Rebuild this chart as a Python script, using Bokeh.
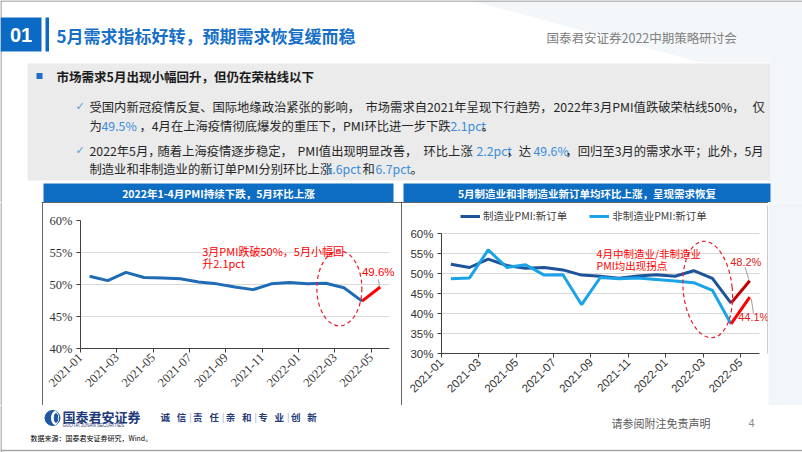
import math
from bokeh.plotting import figure
from bokeh.layouts import row, column
from bokeh.models import Range1d, FixedTicker, PrintfTickFormatter, Label, Legend, LegendItem
from bokeh.core.properties import value
from bokeh.embed import file_html
from bokeh.resources import INLINE

# ---------------- data ----------------
months = ["2021-01", "2021-02", "2021-03", "2021-04", "2021-05", "2021-06",
          "2021-07", "2021-08", "2021-09", "2021-10", "2021-11", "2021-12",
          "2022-01", "2022-02", "2022-03", "2022-04", "2022-05"]
pmi = [51.3, 50.6, 51.9, 51.1, 51.0, 50.9, 50.4, 50.1, 49.6, 49.2, 50.1, 50.3,
       50.1, 50.2, 49.5, 47.4, 49.6]
mfg_new_orders = [52.3, 51.5, 53.6, 52.0, 51.3, 51.5, 50.9, 49.6, 49.3, 48.8, 49.4, 49.7,
                  49.3, 50.7, 48.8, 42.6, 48.2]
nonmfg_new_orders = [48.7, 48.9, 55.9, 51.5, 52.2, 49.6, 49.7, 42.2, 49.0, 48.7, 48.9, 48.5,
                     48.1, 47.7, 45.8, 37.4, 44.1]
tick_labels = months[0::2]
left_yticks = [40, 45, 50, 55, 60]
right_yticks = [30, 35, 40, 45, 50, 55, 60]
series_names = ["制造业PMI:新订单", "非制造业PMI:新订单"]

CJK = "Noto Sans CJK SC"
BLUE_HI = "#3A8DDA"
TXT = "#262626"
N = len(months)


def deco(w, h, bg="white"):
    p = figure(width=w, height=h, x_range=Range1d(0, w), y_range=Range1d(h, 0),
               toolbar_location=None, output_backend="svg", min_border=0, title=None,
               x_axis_type=None, y_axis_type=None, outline_line_color=None,
               background_fill_color=bg, border_fill_color=bg, frame_align=False)
    return p


def txt(p, x, y, s, size, color=TXT, bold=False, align="left", font=CJK):
    p.text(x=[x], y=[y], text=[s], text_font=value(font), text_font_size=value(f"{size}px"),
           text_color=color, text_font_style="bold" if bold else "normal",
           text_align=align, text_baseline="middle")


# ---------------- header (y 0..202) ----------------
hd = deco(802, 202)
hd.patch(x=[470, 802, 802, 700], y=[0, 0, 62, 62], color="#F4F7FA", line_color=None)
hd.quad(left=[770], right=[802], top=[55], bottom=[202], color="#F2F5F9", line_color=None)
hd.segment(x0=[0], y0=[0.5], x1=[802], y1=[0.5], color="#A6A6A6", line_width=1.5)
hd.segment(x0=[0.5], y0=[0], x1=[0.5], y1=[202], color="#A6A6A6", line_width=1.5)
hd.quad(left=[0], right=[41], top=[17], bottom=[51], color="#0B6BC4", line_color=None)
hd.quad(left=[45], right=[48.5], top=[17], bottom=[51], color="#0B6BC4", line_color=None)
txt(hd, 20.5, 34.5, "01", 20, "white", True, "center", "Liberation Sans")
txt(hd, 56, 34.5, "5月需求指标好转，预期需求恢复缓而稳", 17, "#1670C8", True)
txt(hd, 546, 37, "国泰君安证券2022中期策略研讨会", 12.5, "#808080")

hd.quad(left=[27], right=[770], top=[63], bottom=[180], color="#EBEBEB", line_color=None)
hd.quad(left=[36], right=[42], top=[72.5], bottom=[78.5], color="#1F6FC5", line_color=None)
txt(hd, 56, 76, "市场需求5月出现小幅回升，但仍在荣枯线以下", 12.5, "#1A1A1A", True)

FS = 12.3
txt(hd, 75, 106, "✓", 11, "#5B9BD5", font="DejaVu Sans")
for xx, s in [(89, "受国内新冠疫情反复、国际地缘政治紧张的影响，"), (365, "市场需求自2021年呈现下行趋势，"),
              (553, "2022年3月PMI值跌破荣枯线50%，"), (752, "仅")]:
    txt(hd, xx, 106, s, FS)
for xx, s, c in [(89, "为", TXT), (101, "49.5%", BLUE_HI),
                 (139, "，4月在上海疫情彻底爆发的重压下，PMI环比进一步下跌", TXT),
                 (450, "2.1pct", BLUE_HI), (481, "。", TXT)]:
    txt(hd, xx, 125, s, FS, c)
txt(hd, 75, 150, "✓", 11, "#5B9BD5", font="DejaVu Sans")
for xx, s, c in [(89, "2022年5月，", TXT), (157, "随着上海疫情逐步稳定，", TXT),
                 (297, "PMI值出现明显改善，", TXT), (423, "环比上涨", TXT),
                 (476, "2.2pct", BLUE_HI), (506, "，达", TXT), (533, "49.6%", BLUE_HI),
                 (565, "，回归至3月的需求水平；此外，5月", TXT)]:
    txt(hd, xx, 150, s, FS, c)
for xx, s, c in [(89, "制造业和非制造业的新订单PMI分别环比上涨", TXT), (325, "5.6pct", BLUE_HI),
                 (362, "和", TXT), (375, "6.7pct", BLUE_HI), (410, "。", TXT)]:
    txt(hd, xx, 168, s, FS, c)

hd.quad(left=[43, 403], right=[393, 770], top=[183, 183], bottom=[202, 202],
        color="#0C6DC2", line_color=None)
txt(hd, 218, 192.5, "2022年1-4月PMI持续下跌，5月环比上涨", 10.5, "white", True, "center")
txt(hd, 586.5, 192.5, "5月制造业和非制造业新订单均环比上涨，呈现需求恢复", 10.5, "white", True, "center")

# ---------------- margins ----------------
ml = deco(42, 203)
ml.segment(x0=[0.5], y0=[0], x1=[0.5], y1=[203], color="#A6A6A6", line_width=1.5)
mr = deco(34, 203, bg="#F2F5F9")

# ---------------- charts ----------------
xs = [i + 0.5 for i in range(N)]
box_style = {"outline": "1px solid #333333", "outline-offset": "-1px"}


def style_axes(p, yticks, font, size):
    xt = FixedTicker(ticks=list(range(0, N, 2)))
    p.xaxis.ticker = xt
    p.xaxis.major_label_overrides = {i: months[i] for i in range(0, N, 2)}
    p.xaxis.major_label_orientation = math.pi / 4
    p.xaxis.bounds = (0, N)
    yt = FixedTicker(ticks=yticks)
    p.yaxis.ticker = yt
    p.ygrid.ticker = yt
    p.ygrid.cross_bounds = (0, N)
    p.yaxis.formatter = PrintfTickFormatter(format="%d%%")
    for ax in (p.xaxis[0], p.yaxis[0]):
        ax.axis_line_color = "#404040"
        ax.major_tick_line_color = "#404040"
        ax.minor_tick_line_color = None
        ax.major_tick_out = 4
        ax.major_tick_in = 0
        ax.major_label_text_font = font
        ax.major_label_text_font_size = size
        ax.major_label_text_color = "#333333"
    p.xaxis.major_label_standoff = 3
    p.yaxis.major_label_standoff = 4
    p.xgrid.visible = False
    p.ygrid.grid_line_color = "#D9D9D9"


p1 = figure(width=359, height=203, x_range=Range1d(0, 17.45), y_range=Range1d(40, 60),
            toolbar_location=None, output_backend="svg", title=None, min_border_left=38,
            min_border_right=4, min_border_top=18, min_border_bottom=57,
            outline_line_color=None, styles=box_style, frame_align=False)
style_axes(p1, left_yticks, "Liberation Serif", "12.5px")
p1.line(xs[:16], pmi[:16], color="#1F6CB5", line_width=3)
p1.line(xs[15:], pmi[15:], color="#FF0000", line_width=3)
p1.ellipse(x=[14.25], y=[49.4], width=45, height=75, width_units="screen", height_units="screen",
           fill_color=None, line_color="#E0202E", line_dash="4 3", line_width=1.2)
p1.segment(x0=[xs[16] - 0.05], y0=[pmi[16] + 0.2], x1=[xs[16] - 0.1], y1=[pmi[16] + 1.2],
           color="#A0A0A0", line_width=1)
p1.add_layout(Label(x=6.7, y=55.3, text="3月PMI跌破50%，5月小幅回", text_font=CJK,
                    text_font_size="11px", text_color="#FF0000", text_baseline="middle"))
p1.add_layout(Label(x=6.7, y=53.4, text="升2.1pct", text_font=CJK,
                    text_font_size="11px", text_color="#FF0000", text_baseline="middle"))
p1.add_layout(Label(x=xs[16], y=pmi[16], x_offset=-2, y_offset=15, text=f"{pmi[16]}%",
                    text_font="Liberation Sans", text_font_size="11.5px", text_color="#FF0000",
                    text_align="center", text_baseline="middle"))

p2 = figure(width=367, height=203, x_range=Range1d(0, 17.45), y_range=Range1d(30, 67),
            toolbar_location=None, output_backend="svg", title=None, min_border_left=40,
            min_border_right=1, min_border_top=3, min_border_bottom=52,
            outline_line_color=None, styles=box_style, frame_align=False)
style_axes(p2, right_yticks, "Liberation Sans", "11.5px")
p2.yaxis.bounds = (30, 60)
r_dark = p2.line(xs[:16], mfg_new_orders[:16], color="#1D5499", line_width=3)
r_light = p2.line(xs[:16], nonmfg_new_orders[:16], color="#1AA3E6", line_width=3)
p2.line(xs[15:], mfg_new_orders[15:], color="#C00000", line_width=3)
p2.line(xs[15:], nonmfg_new_orders[15:], color="#FF0000", line_width=3)
p2.ellipse(x=[14.25], y=[46], width=49, height=97, width_units="screen", height_units="screen",
           angle=0.1, fill_color=None, line_color="#E0202E", line_dash="4 3", line_width=1.2)
p2.segment(x0=[xs[16] - 0.05, xs[16] + 0.08], y0=[mfg_new_orders[16] + 0.3, nonmfg_new_orders[16] - 0.4],
           x1=[xs[16] - 0.25, xs[16] + 0.2], y1=[mfg_new_orders[16] + 3.4, nonmfg_new_orders[16] - 4.0],
           color="#A0A0A0", line_width=1)
p2.add_layout(Label(x=8.3, y=55, text="4月中制造业/非制造业", text_font=CJK,
                    text_font_size="10.5px", text_color="#FF0000", text_baseline="middle"))
p2.add_layout(Label(x=8.3, y=52, text="PMI均出现拐点", text_font=CJK,
                    text_font_size="10.5px", text_color="#FF0000", text_baseline="middle"))
p2.add_layout(Label(x=xs[16], y=mfg_new_orders[16], x_offset=-4, y_offset=19,
                    text=f"{mfg_new_orders[16]}%", text_font="Liberation Sans",
                    text_font_size="11px", text_color="#E02020",
                    text_align="center", text_baseline="middle"))
p2.add_layout(Label(x=xs[16], y=nonmfg_new_orders[16], x_offset=4, y_offset=-20,
                    text=f"{nonmfg_new_orders[16]}%", text_font="Liberation Sans",
                    text_font_size="11px", text_color="#E02020",
                    text_align="center", text_baseline="middle"))
legend = Legend(items=[LegendItem(label=series_names[0], renderers=[r_dark]),
                       LegendItem(label=series_names[1], renderers=[r_light])],
                orientation="horizontal", location=(19, 130), border_line_color=None,
                background_fill_alpha=0, padding=0, margin=0, spacing=22,
                glyph_width=20, glyph_height=12, label_standoff=3,
                label_text_font=CJK, label_text_font_size="10.5px", label_text_color="#404040")
p2.add_layout(legend)

# ---------------- footer (y 405..452) ----------------
ft = deco(802, 47)
ft.segment(x0=[0.5], y0=[0], x1=[0.5], y1=[47], color="#A6A6A6", line_width=1.5)
ft.segment(x0=[0], y0=[45], x1=[802], y1=[45], color="#A6A6A6", line_width=1.5)
ft.ellipse(x=[52], y=[12.5], width=15, height=15, color="#1F57A4")
ft.ellipse(x=[54.5], y=[12.5], width=7, height=13, color="white")
ft.ellipse(x=[55.5], y=[12.5], width=3.5, height=9, color="#1F57A4")
txt(ft, 62, 10.5, "国泰君安证券", 13, "#1F3A78", True)
txt(ft, 62, 20, "GUOTAI JUNAN SECURITIES", 4.5, "#1F3A78", False, "left", "Liberation Sans")
motto = ["诚", "信", "责", "任", "亲", "和", "专", "业", "创", "新"]
for i, ch in enumerate(motto):
    txt(ft, 160 + i * 16.3, 11.5, ch, 9.5, "#1F3A78", True)
    if i % 2 == 1 and i < 9:
        txt(ft, 160 + i * 16.3 + 12.5, 11.5, "|", 9, "#8FA3C4")
txt(ft, 611, 17, "请参阅附注免责声明", 11, "#595959")
txt(ft, 748, 17, "4", 11, "#8C8C8C", font="Liberation Sans")
txt(ft, 30, 32, "数据来源：国泰君安证券研究，Wind。", 7, "#000000")

layout = column(hd, row(ml, p1, p2, mr), ft)
open("out.html", "w").write(file_html(layout, INLINE))
